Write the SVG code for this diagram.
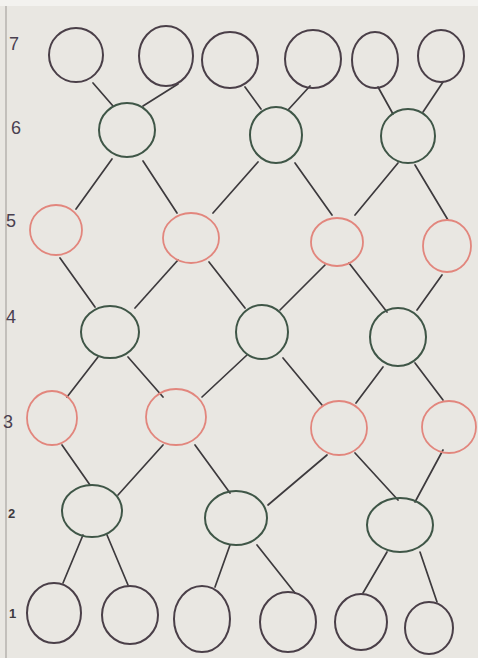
<svg xmlns="http://www.w3.org/2000/svg" width="478" height="658" viewBox="0 0 478 658">
<style>
.paper{fill:#e9e7e2}
.blk{fill:none;stroke:#4a3f48;stroke-width:2}
.grn{fill:none;stroke:#3f5647;stroke-width:2}
.red{fill:none;stroke:#e2867d;stroke-width:1.8}
.edge{stroke:#3d3a3d;stroke-width:1.7;stroke-linecap:round}
.lbl{font-family:"Liberation Sans",Arial,sans-serif;font-size:18px;fill:#4a4050}
.sm{font-size:13px;font-weight:bold;fill:#3d3a40}
</style>
<rect x="0" y="0" width="478" height="658" class="paper"/>
<rect x="0" y="0" width="478" height="6" fill="#f3f2ef"/>
<line x1="6" y1="6" x2="6" y2="658" stroke="#a9a6a2" stroke-width="1.2"/>
<g id="labels">
<text class="lbl" x="9" y="50">7</text>
<text class="lbl" x="11" y="134">6</text>
<text class="lbl" x="6" y="227">5</text>
<text class="lbl" x="6" y="323">4</text>
<text class="lbl" x="3" y="428" font-size="21">3</text>
<text class="lbl sm" x="8" y="518">2</text>
<text class="lbl sm" x="9" y="618">1</text>
</g>
<g id="connectors">
<line class="edge" x1="93" y1="83" x2="113" y2="106"/>
<line class="edge" x1="178" y1="84" x2="143" y2="106"/>
<line class="edge" x1="245" y1="87" x2="261" y2="109"/>
<line class="edge" x1="310" y1="86" x2="288" y2="110"/>
<line class="edge" x1="378" y1="87" x2="393" y2="114"/>
<line class="edge" x1="443" y1="82" x2="423" y2="112"/>
<line class="edge" x1="112" y1="159" x2="76" y2="209"/>
<line class="edge" x1="143" y1="161" x2="177" y2="213"/>
<line class="edge" x1="258" y1="162" x2="213" y2="213"/>
<line class="edge" x1="295" y1="163" x2="332" y2="215"/>
<line class="edge" x1="398" y1="163" x2="355" y2="215"/>
<line class="edge" x1="415" y1="165" x2="448" y2="220"/>
<line class="edge" x1="60" y1="258" x2="95" y2="307"/>
<line class="edge" x1="178" y1="260" x2="135" y2="308"/>
<line class="edge" x1="209" y1="262" x2="245" y2="308"/>
<line class="edge" x1="325" y1="265" x2="280" y2="310"/>
<line class="edge" x1="349" y1="263" x2="387" y2="312"/>
<line class="edge" x1="442" y1="275" x2="417" y2="310"/>
<line class="edge" x1="98" y1="357" x2="67" y2="397"/>
<line class="edge" x1="128" y1="357" x2="163" y2="397"/>
<line class="edge" x1="247" y1="355" x2="202" y2="397"/>
<line class="edge" x1="283" y1="358" x2="322" y2="405"/>
<line class="edge" x1="383" y1="367" x2="356" y2="403"/>
<line class="edge" x1="415" y1="363" x2="443" y2="400"/>
<line class="edge" x1="62" y1="445" x2="90" y2="485"/>
<line class="edge" x1="163" y1="445" x2="118" y2="495"/>
<line class="edge" x1="195" y1="445" x2="230" y2="493"/>
<line class="edge" x1="327" y1="455" x2="268" y2="505"/>
<line class="edge" x1="355" y1="453" x2="398" y2="500"/>
<line class="edge" x1="443" y1="450" x2="415" y2="502"/>
<line class="edge" x1="83" y1="535" x2="63" y2="583"/>
<line class="edge" x1="107" y1="535" x2="128" y2="585"/>
<line class="edge" x1="230" y1="545" x2="215" y2="587"/>
<line class="edge" x1="257" y1="545" x2="295" y2="593"/>
<line class="edge" x1="387" y1="552" x2="363" y2="593"/>
<line class="edge" x1="420" y1="552" x2="437" y2="602"/>
</g>
<g id="n7_1"><ellipse class="blk" cx="76" cy="55" rx="27" ry="27"/></g>
<g id="n7_2"><ellipse class="blk" cx="166" cy="56" rx="27" ry="30"/></g>
<g id="n7_3"><ellipse class="blk" cx="230" cy="60" rx="28" ry="28"/></g>
<g id="n7_4"><ellipse class="blk" cx="313" cy="59" rx="28" ry="29"/></g>
<g id="n7_5"><ellipse class="blk" cx="375" cy="60" rx="23" ry="28"/></g>
<g id="n7_6"><ellipse class="blk" cx="441" cy="56" rx="23" ry="26"/></g>
<g id="n6_1"><ellipse class="grn" cx="127" cy="130" rx="28" ry="27"/></g>
<g id="n6_2"><ellipse class="grn" cx="276" cy="135" rx="26" ry="28"/></g>
<g id="n6_3"><ellipse class="grn" cx="408" cy="136" rx="27" ry="27"/></g>
<g id="n5_1"><ellipse class="red" cx="56" cy="230" rx="26" ry="25"/></g>
<g id="n5_2"><ellipse class="red" cx="191" cy="238" rx="28" ry="25"/></g>
<g id="n5_3"><ellipse class="red" cx="337" cy="242" rx="26" ry="24"/></g>
<g id="n5_4"><ellipse class="red" cx="447" cy="246" rx="24" ry="26"/></g>
<g id="n4_1"><ellipse class="grn" cx="110" cy="332" rx="29" ry="26"/></g>
<g id="n4_2"><ellipse class="grn" cx="262" cy="332" rx="26" ry="27"/></g>
<g id="n4_3"><ellipse class="grn" cx="398" cy="337" rx="28" ry="29"/></g>
<g id="n3_1"><ellipse class="red" cx="52" cy="418" rx="25" ry="27"/></g>
<g id="n3_2"><ellipse class="red" cx="176" cy="417" rx="30" ry="28"/></g>
<g id="n3_3"><ellipse class="red" cx="339" cy="428" rx="28" ry="27"/></g>
<g id="n3_4"><ellipse class="red" cx="449" cy="427" rx="27" ry="26"/></g>
<g id="n2_1"><ellipse class="grn" cx="92" cy="511" rx="30" ry="26"/></g>
<g id="n2_2"><ellipse class="grn" cx="236" cy="518" rx="31" ry="27"/></g>
<g id="n2_3"><ellipse class="grn" cx="400" cy="525" rx="33" ry="27"/></g>
<g id="n1_1"><ellipse class="blk" cx="54" cy="613" rx="27" ry="30"/></g>
<g id="n1_2"><ellipse class="blk" cx="130" cy="615" rx="28" ry="29"/></g>
<g id="n1_3"><ellipse class="blk" cx="202" cy="619" rx="28" ry="33"/></g>
<g id="n1_4"><ellipse class="blk" cx="288" cy="622" rx="28" ry="30"/></g>
<g id="n1_5"><ellipse class="blk" cx="361" cy="622" rx="26" ry="28"/></g>
<g id="n1_6"><ellipse class="blk" cx="429" cy="628" rx="24" ry="26"/></g>
</svg>
